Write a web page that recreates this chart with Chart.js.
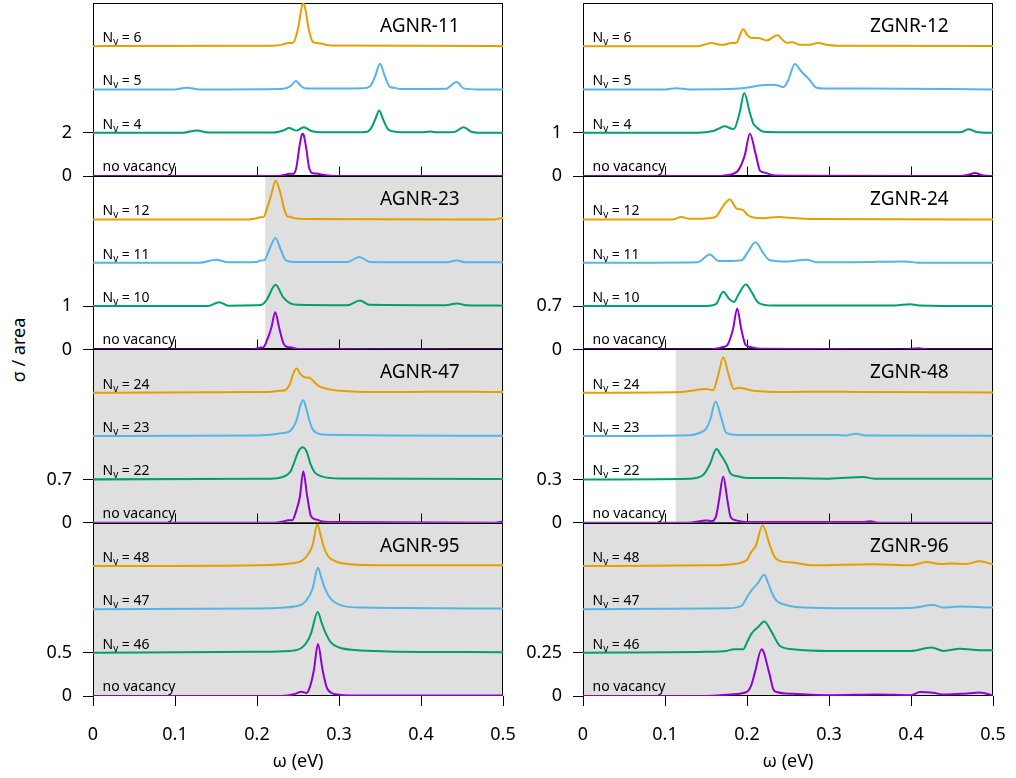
<!DOCTYPE html>
<html>
<head>
<meta charset="utf-8">
<script src="https://cdn.jsdelivr.net/npm/chart.js@4.4.1/dist/chart.umd.min.js"></script>
<style>
  body { margin: 0; background: #fff; width: 1016px; height: 778px; position: relative; overflow: hidden; }
  .panel { position: absolute; }
  #ylab { position: absolute; left: 18px; top: 350px; transform: translate(-50%, -50%) rotate(-90deg);
          font: 18px "Noto Sans"; color: #000; white-space: nowrap; }
</style>
</head>
<body>
<div id="ylab">σ / area</div>
<script>
// ---- data: [omega (eV), sigma/area above each curve's own baseline] ----
const xTicks = [0, 0.1, 0.2, 0.3, 0.4, 0.5]
const leftTitles = ['AGNR-11', 'AGNR-23', 'AGNR-47', 'AGNR-95']
const rightTitles = ['ZGNR-12', 'ZGNR-24', 'ZGNR-48', 'ZGNR-96']
const leftSteps = [2, 1, 0.7, 0.5]      // offset between curves, also the second y tick
const rightSteps = [1, 0.7, 0.3, 0.25]
const vacancyCounts = [[4, 5, 6], [10, 11, 12], [22, 23, 24], [46, 47, 48]]
const leftShadeFrom = [null, 0.21, 0, 0]
const rightShadeFrom = [null, null, 0.113, 0]
const seriesColors = ['#9400D3', '#009E73', '#56B4E9', '#E69F00'] // no vacancy, then Nv low->high

// AGNR-11
const a11_0 = [[0,0],[0.2,0],[0.225,0.01],[0.236,0.08],[0.240,0.11],[0.244,0.10],[0.248,0.4],[0.2515,1.3],[0.2545,1.9],[0.2556,1.96],[0.257,1.9],[0.26,1.3],[0.2635,0.4],[0.268,0.13],[0.273,0.12],[0.278,0.08],[0.29,0.02],[0.31,0],[0.5,0]]
const a11_4 = [[0,0],[0.11,0],[0.127,0.11],[0.14,0.01],[0.22,0.01],[0.233,0.12],[0.239,0.22],[0.2483,0.1],[0.257,0.26],[0.266,0.08],[0.28,0.02],[0.33,0.03],[0.338,0.15],[0.344,0.6],[0.349,1.03],[0.354,0.6],[0.36,0.15],[0.37,0.04],[0.40,0.02],[0.411,0.06],[0.42,0.02],[0.44,0.03],[0.452,0.25],[0.462,0.04],[0.48,0],[0.5,0]]
const a11_5 = [[0,0],[0.10,0],[0.114,0.08],[0.13,0],[0.23,0.02],[0.241,0.15],[0.2475,0.39],[0.254,0.15],[0.26,0.04],[0.33,0.06],[0.338,0.15],[0.344,0.6],[0.35,1.19],[0.356,0.6],[0.362,0.12],[0.367,0.08],[0.375,0.02],[0.43,0.03],[0.4436,0.34],[0.452,0.05],[0.47,0],[0.5,0]]
const a11_6 = [[0,0],[0.22,0.02],[0.232,0.08],[0.238,0.14],[0.244,0.16],[0.25,0.8],[0.2545,1.8],[0.2565,1.98],[0.2585,1.8],[0.263,0.8],[0.268,0.2],[0.273,0.14],[0.278,0.12],[0.29,0.03],[0.5,0]]
// AGNR-23
const a23_0 = [[0,0],[0.19,0],[0.2,0.02],[0.2035,0.04],[0.208,0.05],[0.212,0.2],[0.2175,0.5],[0.2222,0.86],[0.227,0.5],[0.232,0.15],[0.236,0.06],[0.24,0.05],[0.25,0.01],[0.5,0]]
const a23_10 = [[0,0],[0.14,0],[0.154,0.09],[0.165,0.01],[0.2,0.02],[0.2068,0.04],[0.212,0.15],[0.2226,0.49],[0.232,0.2],[0.24,0.07],[0.25,0.03],[0.31,0.02],[0.3256,0.13],[0.337,0.03],[0.43,0.02],[0.4444,0.06],[0.455,0.02],[0.5,0.01]]
const a23_11 = [[0,0],[0.13,0],[0.1498,0.07],[0.165,0.01],[0.2,0.02],[0.2043,0.05],[0.209,0.06],[0.215,0.3],[0.2226,0.57],[0.229,0.3],[0.235,0.06],[0.245,0.02],[0.31,0.02],[0.3248,0.13],[0.338,0.02],[0.43,0.01],[0.4436,0.05],[0.455,0.01],[0.5,0.01]]
const a23_12 = [[0,0],[0.19,0],[0.2,0.03],[0.2035,0.05],[0.208,0.06],[0.213,0.3],[0.2178,0.6],[0.2226,0.89],[0.2287,0.6],[0.233,0.25],[0.237,0.07],[0.24,0.06],[0.245,0.03],[0.26,0.01],[0.49,0],[0.5,0.04]]
// AGNR-47
const a47_0 = [[0,0],[0.22,0],[0.232,0.02],[0.238,0.04],[0.243,0.04],[0.248,0.2],[0.2523,0.42],[0.2564,0.83],[0.2613,0.42],[0.266,0.1],[0.2727,0.05],[0.28,0.02],[0.3,0.01],[0.49,0],[0.5,0.02]]
const a47_22 = [[0,0],[0.2,0.01],[0.225,0.02],[0.235,0.06],[0.241,0.13],[0.245,0.26],[0.2505,0.45],[0.2556,0.52],[0.2605,0.45],[0.265,0.26],[0.27,0.12],[0.275,0.07],[0.281,0.04],[0.3,0.015],[0.5,0.005]]
const a47_23 = [[0,0],[0.2,0.01],[0.232,0.05],[0.24,0.08],[0.245,0.16],[0.249,0.29],[0.253,0.5],[0.2564,0.58],[0.26,0.45],[0.263,0.29],[0.267,0.13],[0.2727,0.05],[0.285,0.02],[0.5,0.005]]
const a47_24 = [[0,0],[0.21,0.01],[0.228,0.03],[0.234,0.04],[0.24,0.14],[0.244,0.3],[0.2482,0.39],[0.253,0.3],[0.258,0.25],[0.2646,0.24],[0.27,0.17],[0.275,0.11],[0.2808,0.08],[0.29,0.05],[0.301,0.03],[0.35,0.01],[0.41,0.015],[0.46,0.015],[0.5,0.01]]
// AGNR-95
const a95_0 = [[0,0],[0.23,0],[0.245,0.02],[0.2544,0.05],[0.2605,0.035],[0.265,0.12],[0.2694,0.3],[0.2743,0.6],[0.28,0.3],[0.285,0.1],[0.29,0.04],[0.3,0.015],[0.33,0.005],[0.5,0.005]]
const a95_46 = [[0,0],[0.2,0.01],[0.24,0.02],[0.255,0.06],[0.262,0.14],[0.2663,0.235],[0.274,0.47],[0.279,0.34],[0.2833,0.235],[0.29,0.12],[0.3,0.06],[0.32,0.03],[0.36,0.015],[0.5,0.005]]
const a95_47 = [[0,0],[0.2,0.01],[0.248,0.035],[0.26,0.1],[0.2678,0.24],[0.2743,0.48],[0.278,0.38],[0.2829,0.24],[0.29,0.12],[0.305,0.04],[0.33,0.02],[0.5,0.01]]
const a95_48 = [[0,0],[0.2,0.01],[0.24,0.03],[0.2544,0.06],[0.262,0.13],[0.2678,0.24],[0.2735,0.48],[0.277,0.38],[0.2808,0.24],[0.287,0.11],[0.297,0.05],[0.313,0.02],[0.35,0.01],[0.5,0.01]]
// ZGNR-12
const z12_0 = [[0,0],[0.16,0],[0.175,0.02],[0.183,0.05],[0.19,0.15],[0.1974,0.49],[0.2035,0.98],[0.2108,0.49],[0.216,0.12],[0.2218,0.08],[0.232,0.02],[0.25,0.01],[0.46,0],[0.47,0.03],[0.478,0.07],[0.487,0.02],[0.5,0]]
const z12_4 = [[0,0],[0.14,0],[0.1587,0.04],[0.166,0.1],[0.173,0.15],[0.18,0.1],[0.184,0.09],[0.191,0.46],[0.1966,0.92],[0.2035,0.46],[0.208,0.2],[0.2116,0.13],[0.218,0.04],[0.224,0.02],[0.3,0.01],[0.46,0.01],[0.47,0.08],[0.48,0.02],[0.5,0]]
const z12_5 = [[0,0],[0.1,0],[0.114,0.03],[0.13,0],[0.19,0.02],[0.1994,0.04],[0.215,0.09],[0.23,0.11],[0.24,0.08],[0.244,0.05],[0.25,0.2],[0.2584,0.59],[0.266,0.42],[0.2768,0.21],[0.282,0.08],[0.285,0.04],[0.3,0.02],[0.34,0.02],[0.5,0]]
const z12_6 = [[0,0],[0.14,0],[0.1567,0.07],[0.165,0.04],[0.171,0.03],[0.181,0.07],[0.187,0.08],[0.1954,0.39],[0.2005,0.25],[0.2055,0.19],[0.2137,0.19],[0.224,0.13],[0.2369,0.25],[0.248,0.08],[0.2556,0.09],[0.2646,0.03],[0.275,0.03],[0.287,0.07],[0.297,0.03],[0.31,0.01],[0.5,0]]
// ZGNR-24
const z24_0 = [[0,0],[0.15,0],[0.165,0.02],[0.171,0.04],[0.176,0.07],[0.183,0.33],[0.188,0.66],[0.193,0.33],[0.198,0.08],[0.2035,0.04],[0.215,0.01],[0.39,0],[0.409,0.02],[0.42,0],[0.5,0]]
const z24_10 = [[0,0],[0.15,0],[0.162,0.03],[0.171,0.23],[0.178,0.12],[0.184,0.065],[0.19,0.2],[0.1986,0.35],[0.206,0.22],[0.212,0.08],[0.2157,0.04],[0.23,0.01],[0.38,0.01],[0.399,0.03],[0.41,0.01],[0.5,0]]
const z24_11 = [[0,0],[0.14,0.01],[0.1547,0.135],[0.165,0.03],[0.18,0.03],[0.1933,0.04],[0.2,0.15],[0.2104,0.33],[0.22,0.15],[0.2279,0.04],[0.25,0.02],[0.2727,0.05],[0.285,0.01],[0.33,0.01],[0.3928,0.02],[0.41,0],[0.5,0]]
const z24_12 = [[0,0],[0.11,0],[0.12,0.04],[0.13,0.01],[0.155,0.02],[0.1628,0.05],[0.17,0.2],[0.179,0.32],[0.187,0.18],[0.1954,0.15],[0.2,0.08],[0.2076,0.03],[0.22,0.02],[0.238,0.04],[0.26,0.02],[0.285,0.005],[0.5,0]]
// ZGNR-48
const z48_0 = [[0,0],[0.13,0],[0.1506,0.016],[0.1567,0.01],[0.162,0.04],[0.166,0.16],[0.171,0.32],[0.176,0.16],[0.18,0.04],[0.187,0.016],[0.2,0.005],[0.34,0.004],[0.35,0.01],[0.36,0],[0.5,0]]
const z48_22 = [[0,0],[0.13,0.005],[0.1465,0.03],[0.1547,0.105],[0.1628,0.21],[0.168,0.17],[0.175,0.105],[0.18,0.04],[0.1872,0.023],[0.2,0.01],[0.24,0.01],[0.3,0.005],[0.342,0.016],[0.355,0.005],[0.5,0.005]]
const z48_23 = [[0,0],[0.13,0.005],[0.1425,0.023],[0.15,0.05],[0.1555,0.12],[0.1616,0.24],[0.1689,0.12],[0.175,0.02],[0.19,0.007],[0.3093,0.007],[0.32,0.004],[0.333,0.016],[0.345,0.004],[0.5,0.002]]
const z48_24 = [[0,0],[0.12,0.005],[0.1506,0.025],[0.1587,0.018],[0.1648,0.12],[0.171,0.245],[0.1778,0.12],[0.184,0.025],[0.1905,0.035],[0.2076,0.014],[0.25,0.005],[0.297,0.007],[0.334,0.005],[0.5,0.002]]
// ZGNR-96
const z96_0 = [[0,0],[0.15,0],[0.18,0.009],[0.1994,0.023],[0.205,0.06],[0.2096,0.135],[0.2178,0.27],[0.227,0.135],[0.232,0.04],[0.236,0.023],[0.256,0.013],[0.3,0.005],[0.36,0.009],[0.4,0.005],[0.411,0.023],[0.427,0.019],[0.44,0.008],[0.465,0.013],[0.484,0.02],[0.5,0.004]]
const z96_46 = [[0,0],[0.15,0.005],[0.175,0.01],[0.184,0.02],[0.1954,0.02],[0.2,0.06],[0.2055,0.11],[0.214,0.15],[0.221,0.18],[0.23,0.12],[0.24,0.04],[0.256,0.02],[0.3,0.01],[0.4,0.01],[0.425,0.03],[0.44,0.01],[0.46,0.023],[0.475,0.017],[0.49,0.014],[0.5,0.014]]
const z96_47 = [[0,0],[0.15,0.005],[0.175,0.006],[0.1933,0.02],[0.2,0.07],[0.2055,0.11],[0.213,0.15],[0.221,0.2],[0.226,0.15],[0.23,0.1],[0.236,0.05],[0.248,0.025],[0.27,0.01],[0.32,0.006],[0.4,0.008],[0.427,0.025],[0.44,0.01],[0.46,0.017],[0.48,0.014],[0.5,0.01]]
const z96_48 = [[0,0],[0.15,0.004],[0.175,0.008],[0.1994,0.033],[0.205,0.08],[0.2108,0.117],[0.219,0.235],[0.228,0.117],[0.234,0.05],[0.24,0.03],[0.2564,0.02],[0.281,0.004],[0.354,0.01],[0.399,0.004],[0.419,0.023],[0.4355,0.012],[0.45,0.015],[0.467,0.012],[0.484,0.027],[0.5,0.01]]

const leftCurves = [[a11_0, a11_4, a11_5, a11_6], [a23_0, a23_10, a23_11, a23_12], [a47_0, a47_22, a47_23, a47_24], [a95_0, a95_46, a95_47, a95_48]]
const rightCurves = [[z12_0, z12_4, z12_5, z12_6], [z24_0, z24_10, z24_11, z24_12], [z48_0, z48_22, z48_23, z48_24], [z96_0, z96_46, z96_47, z96_48]]

// ---- layout ----
const FONT = '"Noto Sans", sans-serif'
const PANEL_TOP = 2.8
const PANEL_H = 173.3
const COL_X = [0, 508]
const CANVAS_W = [522, 508]
const AXIS_W = [93, 75]
const PLOT_W = 410

function drawNv(ctx, x, y, n) {
    ctx.font = '14px ' + FONT
    ctx.fillText('N', x, y)
    let w = ctx.measureText('N').width
    ctx.font = '10px ' + FONT
    ctx.fillText('v', x + w, y + 3)
    w += ctx.measureText('v').width
    ctx.font = '14px ' + FONT
    ctx.fillText(' = ' + n, x + w, y)
}

function makeDecor(cfg) {
    return {
        id: 'panelDecor',
        beforeDatasetsDraw(chart) {
            const { ctx, chartArea: a, scales: { x } } = chart
            ctx.save()
            if (cfg.shadeFrom !== null) {
                const sx = x.getPixelForValue(cfg.shadeFrom)
                ctx.fillStyle = '#dfdfdf'
                ctx.fillRect(sx, a.top, a.right - sx, a.bottom - a.top)
            }
            ctx.strokeStyle = '#000'
            ctx.lineWidth = 1
            const l = Math.round(a.left) + 0.5, r = Math.round(a.right) - 0.5
            const t = Math.round(a.top) + 0.5, b = Math.round(a.bottom) - 0.5
            ctx.strokeRect(l, t, r - l, b - t)
            if (!cfg.isBottom) {
                ctx.beginPath()
                xTicks.slice(1, -1).forEach(v => {
                    const px = Math.round(x.getPixelForValue(v)) + 0.5
                    ctx.moveTo(px, b)
                    ctx.lineTo(px, b - 9)
                })
                ctx.stroke()
            }
            ctx.restore()
        },
        afterDatasetsDraw(chart) {
            const { ctx, chartArea: a, scales: { y } } = chart
            ctx.save()
            ctx.fillStyle = '#000'
            ctx.textAlign = 'left'
            ctx.textBaseline = 'alphabetic'
            const lx = a.left + 9.5
            ctx.font = '14px ' + FONT
            ctx.fillText('no vacancy', lx, a.bottom - 5)
            cfg.counts.forEach((n, i) => {
                drawNv(ctx, lx, y.getPixelForValue((i + 1) * cfg.step) - 4, n)
            })
            ctx.font = '19px ' + FONT
            ctx.fillText(cfg.title, a.left + 287, a.top + 29)
            if (cfg.isBottom) {
                ctx.font = '18px ' + FONT
                ctx.textAlign = 'center'
                ctx.textBaseline = 'middle'
                ctx.fillText('ω (eV)', (a.left + a.right) / 2, 762 - cfg.canvasTop)
            }
            ctx.restore()
        }
    }
}

function makePanel(col, row) {
    const step = col === 0 ? leftSteps[row] : rightSteps[row]
    const curves = col === 0 ? leftCurves[row] : rightCurves[row]
    const top = PANEL_TOP + row * PANEL_H
    const bottom = top + PANEL_H
    const isBottom = row === 3
    const cTop = Math.floor(top) - 14
    const cH = isBottom ? 778 - cTop : Math.ceil(bottom) + 14 - cTop
    const cW = CANVAS_W[col]

    const box = document.createElement('div')
    box.className = 'panel'
    box.style.left = COL_X[col] + 'px'
    box.style.top = cTop + 'px'
    box.style.width = cW + 'px'
    box.style.height = cH + 'px'
    const canvas = document.createElement('canvas')
    box.appendChild(canvas)
    document.body.appendChild(box)

    const datasets = curves.map((pts, k) => ({
        data: pts.map(p => ({ x: p[0], y: p[1] + k * step })),
        borderColor: seriesColors[k],
        borderWidth: 2,
        pointRadius: 0,
        fill: false,
        cubicInterpolationMode: 'monotone'
    }))

    const tickFont = { family: FONT, size: 18 }
    new Chart(canvas.getContext('2d'), {
        type: 'line',
        data: { datasets },
        options: {
            responsive: true,
            maintainAspectRatio: false,
            animation: false,
            events: [],
            layout: {
                autoPadding: false,
                padding: {
                    left: 0,
                    right: cW - AXIS_W[col] - PLOT_W,
                    top: top - cTop,
                    bottom: isBottom ? 0 : cTop + cH - bottom
                }
            },
            plugins: { legend: { display: false }, tooltip: { enabled: false } },
            scales: {
                x: {
                    type: 'linear',
                    min: 0,
                    max: 0.5,
                    display: isBottom,
                    afterBuildTicks: s => { s.ticks = xTicks.map(v => ({ value: v })) },
                    afterFit: s => {
                        if (isBottom) s.height = 778 - (PANEL_TOP + 4 * PANEL_H)
                        s.paddingLeft = 0
                        s.paddingRight = 0
                    },
                    grid: { drawOnChartArea: false, drawTicks: true, tickLength: 10, color: '#000' },
                    border: { display: false },
                    ticks: { font: tickFont, color: '#000', padding: 18, maxRotation: 0, callback: v => String(v) }
                },
                y: {
                    type: 'linear',
                    min: 0,
                    max: 4 * step,
                    afterBuildTicks: s => { s.ticks = [{ value: 0 }, { value: step }] },
                    afterFit: s => {
                        s.width = AXIS_W[col]
                        s.paddingTop = 0
                        s.paddingBottom = 0
                    },
                    grid: { drawOnChartArea: false, drawTicks: true, tickLength: 10, color: '#000' },
                    border: { display: false },
                    ticks: { font: tickFont, color: '#000', padding: 11, callback: v => String(v) }
                }
            }
        },
        plugins: [makeDecor({
            step,
            isBottom,
            canvasTop: cTop,
            counts: vacancyCounts[row],
            title: col === 0 ? leftTitles[row] : rightTitles[row],
            shadeFrom: col === 0 ? leftShadeFrom[row] : rightShadeFrom[row]
        })]
    })
}

for (let row = 0; row < 4; row++) {
    makePanel(0, row)
    makePanel(1, row)
}
</script>
</body>
</html>
